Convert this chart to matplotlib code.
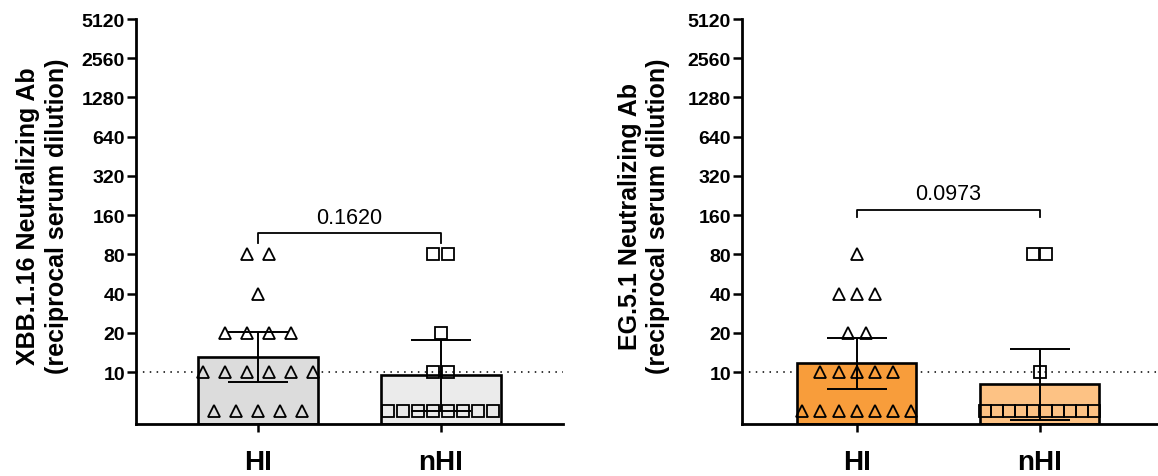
import matplotlib
matplotlib.use("Agg")
import matplotlib.pyplot as plt
import numpy as np

plt.rcParams["font.family"] = ["Liberation Sans", "DejaVu Sans"]

# titres per subject (5 = below detection limit)
groups = ["HI", "nHI"]
xbb_hi = [80, 80, 40, 20, 20, 20, 20, 10, 10, 10, 10, 10, 10, 5, 5, 5, 5, 5]
xbb_nhi = [80, 80, 20, 10, 10, 5, 5, 5, 5, 5, 5, 5, 5]
eg_hi = [80, 40, 40, 40, 20, 20, 10, 10, 10, 10, 10, 5, 5, 5, 5, 5, 5, 5]
eg_nhi = [80, 80, 10, 5, 5, 5, 5, 5, 5, 5, 5, 5, 5]

p_values = ["0.1620", "0.0973"]
y_labels = ["XBB.1.16 Neutralizing Ab\n(reciprocal serum dilution)",
            "EG.5.1 Neutralizing Ab\n(reciprocal serum dilution)"]
y_ticks = [10, 20, 40, 80, 160, 320, 640, 1280, 2560, 5120]
detection_limit = 10

# two-sided 95% t critical values by degrees of freedom
t_crit = {12: 2.1788, 17: 2.1098}

Y_MIN, Y_MAX = 4, 5120


def geo_stats(vals):
    lv = np.log2(vals)
    m = lv.mean()
    se = lv.std(ddof=1) / np.sqrt(len(lv))
    half = t_crit[len(lv) - 1] * se
    return 2 ** m, 2 ** (m - half), 2 ** (m + half)


def row_positions(vals, center, spacing):
    xs, ys = [], []
    for v in sorted(set(vals), reverse=True):
        n = vals.count(v)
        for i in range(n):
            xs.append(center + (i - (n - 1) / 2) * spacing)
            ys.append(v)
    return xs, ys


def panel(ax, hi, nhi, colors, spacings, xlim, bar_w, ylabel, ptext, brk, label_x):
    ax.set_yscale("log", base=2)
    ax.set_ylim(Y_MIN, Y_MAX)
    ax.set_xlim(*xlim)

    ax.plot(xlim, [detection_limit] * 2, color="black", lw=1.1,
            ls=(0, (1, 3.5)), zorder=1, clip_on=False)

    for i, (vals, col, sp, mk, ms) in enumerate(zip(
            [hi, nhi], colors, spacings, ["^", "s"], [8.8, 9.0])):
        gm, lo, up = geo_stats(vals)
        ax.bar(i, gm - Y_MIN, bottom=Y_MIN, width=bar_w, color=col,
               edgecolor="black", linewidth=1.9, zorder=2)
        ax.errorbar(i, gm, yerr=[[gm - lo], [up - gm]], fmt="none",
                    ecolor="black", elinewidth=1.4, capsize=21.5,
                    capthick=1.4, zorder=3)
        xs, ys = row_positions(vals, i, sp)
        ax.plot(xs, ys, ls="none", marker=mk, ms=ms, mfc="none",
                mec="black", mew=1.3, zorder=4, clip_on=False)

    # significance bracket
    yb, ye, yt = brk
    ax.plot([0, 0, 1, 1], [ye, yb, yb, ye], color="black", lw=1.3, zorder=5)
    ax.text(0.5, yt, ptext, ha="center", va="baseline", fontsize=15.5)

    ax.set_yticks(y_ticks)
    ax.set_yticklabels([str(t) for t in y_ticks], fontsize=14, fontweight="bold")
    ax.yaxis.set_minor_locator(matplotlib.ticker.NullLocator())
    ax.set_xticks([0, 1])
    ax.set_xticklabels(groups, fontsize=20, fontweight="bold")
    ax.tick_params(axis="y", length=6.5, width=1.8, pad=1.5)
    ax.tick_params(axis="x", length=6, width=1.8, pad=12)

    for s in ["top", "right"]:
        ax.spines[s].set_visible(False)
    for s in ["left", "bottom"]:
        ax.spines[s].set_linewidth(2.0)

    ax.set_ylabel(ylabel, fontsize=18, fontweight="bold", linespacing=1.25)
    ax.yaxis.set_label_coords(label_x, 0.516)


fig = plt.figure(figsize=(11.58, 4.77), dpi=100)
W, H = 1158, 477
ax1 = fig.add_axes([136 / W, 1 - 425 / H, 427 / W, 405 / H])
ax2 = fig.add_axes([742 / W, 1 - 425 / H, 416 / W, 405 / H])

panel(ax1, xbb_hi, xbb_nhi, ["#dcdcdc", "#ebebeb"], [0.120, 0.082],
      (-0.667, 1.667), 0.656, y_labels[0], p_values[0], (117, 98, 139), -0.158)
panel(ax2, eg_hi, eg_nhi, ["#f89d3b", "#fdc284"], [0.099, 0.066],
      (-0.627, 1.648), 0.65, y_labels[1], p_values[1], (175, 155, 213), -0.172)

fig.savefig("out.png", dpi=100)
